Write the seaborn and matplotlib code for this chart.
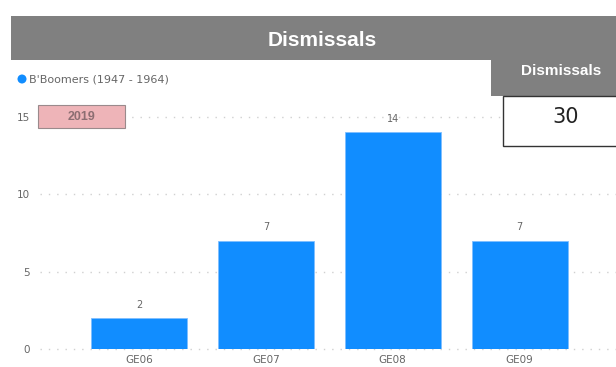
import matplotlib
matplotlib.use("Agg")
import matplotlib.pyplot as plt
from matplotlib.patches import Rectangle, Ellipse
import seaborn as sns
import pandas as pd

# Dismissals by grade for the Baby Boomer generation
grades = ["GE06", "GE07", "GE08", "GE09"]
dismissals = [2, 7, 14, 7]
total_dismissals = 30
year = "2019"
series_name = "B'Boomers (1947 - 1964)"
y_ticks = [0, 5, 10, 15]

BAR_BLUE = "#118DFF"
HEADER_GRAY = "#808080"
TEXT_GRAY = "#666666"

sns.set_style("white")
plt.rcParams["font.family"] = ["DejaVu Sans"]

W, H = 616, 367
fig = plt.figure(figsize=(W / 100, H / 100), dpi=100)

def fx(px):
    return px / W

def fy(py):
    return 1 - py / H

# plot area: left 40px .. right 616px, value 0 at 349px, top at 108px
ax = fig.add_axes([fx(40), fy(349), fx(616 - 40), (349 - 108) / H])
df = pd.DataFrame({"grade": grades, "dismissals": dismissals})
sns.barplot(data=df, x="grade", y="dismissals", color=BAR_BLUE, saturation=1,
            width=0.756, ax=ax, zorder=3, edgecolor="#7fbfff", linewidth=0.6)

ax.set_xlim(-0.78, 3.76)
ax.set_ylim(0, (349 - 108) / 15.47)
ax.set_yticks(y_ticks)
ax.set_yticklabels([str(t) for t in y_ticks])
ax.set_xlabel("")
ax.set_ylabel("")
for s in ax.spines.values():
    s.set_visible(False)
ax.tick_params(axis="both", length=0, colors=TEXT_GRAY, labelsize=7.5)
ax.tick_params(axis="y", pad=7)
ax.tick_params(axis="x", pad=4)
for t in y_ticks:
    ax.axhline(t, color="#d0d0d0", linewidth=1, linestyle=(0, (1, 5)),
               zorder=1, clip_on=False)

for i, v in enumerate(dismissals):
    ax.annotate(str(v), (i, v), xytext=(0, 6), textcoords="offset points",
                ha="center", va="bottom", fontsize=7, color=TEXT_GRAY)

# title bar
fig.patches.append(Rectangle((fx(11), fy(60)), fx(616 - 11), (60 - 16) / H,
                             transform=fig.transFigure, facecolor=HEADER_GRAY,
                             edgecolor="none", zorder=5))
fig.text(fx(322), fy(40), "Dismissals", ha="center", va="center", color="white",
         fontsize=15, fontweight="bold", family="Liberation Sans", zorder=6)

# legend
fig.patches.append(Ellipse((fx(22), fy(79)), 9 / W, 9 / H, transform=fig.transFigure,
                           facecolor=BAR_BLUE, edgecolor="none", zorder=6))
fig.text(fx(29), fy(79), series_name, ha="left", va="center", color=TEXT_GRAY,
         fontsize=8, zorder=6)

# year tag
fig.patches.append(Rectangle((fx(38), fy(128)), fx(125 - 38), (128 - 105) / H,
                             transform=fig.transFigure, facecolor="#EEB4B8",
                             edgecolor="#9a8a8c", linewidth=0.8, zorder=6))
fig.text(fx(81.5), fy(116.5), year, ha="center", va="center", color="#8c6e72",
         fontsize=9, fontweight="bold", family="Liberation Sans", zorder=7)

# total card
fig.patches.append(Rectangle((fx(491), fy(96)), fx(616 - 491), (96 - 60) / H,
                             transform=fig.transFigure, facecolor=HEADER_GRAY,
                             edgecolor="none", zorder=6))
fig.text(fx(561), fy(71), "Dismissals", ha="center", va="center", color="white",
         fontsize=11, fontweight="bold", family="Liberation Sans", zorder=7)
fig.patches.append(Rectangle((fx(503), fy(146)), fx(616 - 503 + 2), (146 - 96) / H,
                             transform=fig.transFigure, facecolor="white",
                             edgecolor="#333333", linewidth=1, zorder=6))
fig.text(fx(566), fy(117), str(total_dismissals), ha="center", va="center",
         color="#222222", fontsize=15, family="DejaVu Sans", zorder=7)

fig.savefig("out.png", dpi=100)
